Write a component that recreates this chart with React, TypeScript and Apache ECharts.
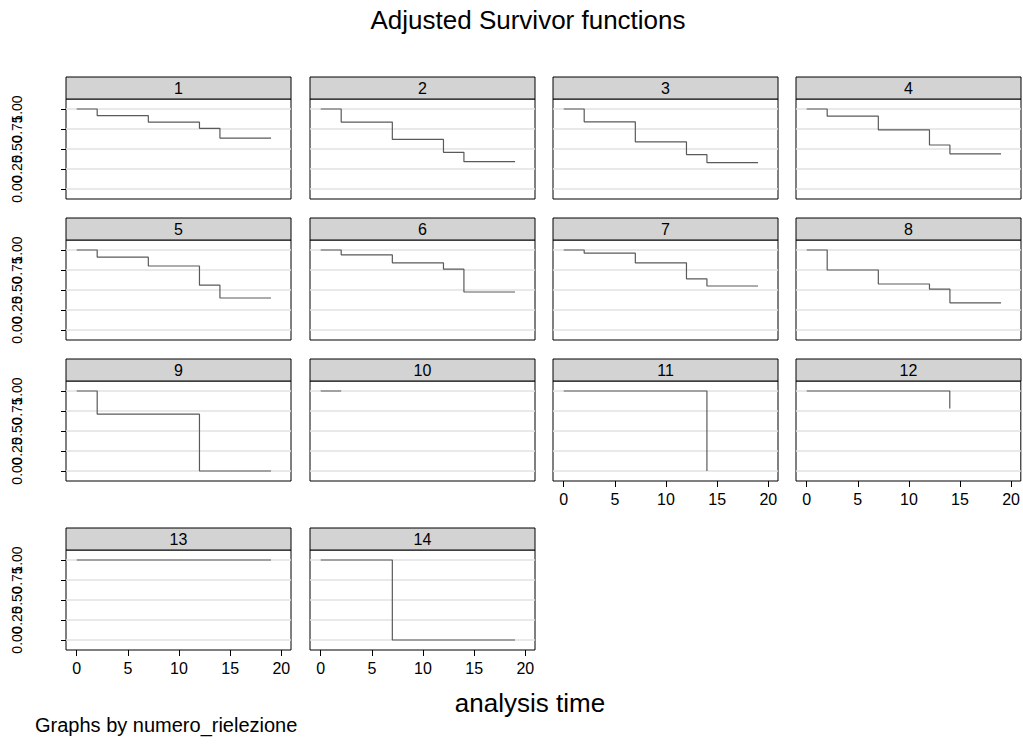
import React, { useEffect, useRef } from "react";
import * as echarts from "echarts";

// ---- data ----
const panelLabels = ["1", "2", "3", "4", "5", "6", "7", "8", "9", "10", "11", "12", "13", "14"];
const stdTimes = [0, 2, 7, 12, 14, 19];
const surv1 = [1, 0.916, 0.837, 0.758, 0.636, 0.636];
const surv2 = [1, 0.837, 0.62, 0.458, 0.341, 0.341];
const surv3 = [1, 0.84, 0.59, 0.43, 0.33, 0.33];
const surv4 = [1, 0.91, 0.74, 0.55, 0.44, 0.44];
const surv5 = [1, 0.91, 0.8, 0.56, 0.4, 0.4];
const surv6 = [1, 0.94, 0.84, 0.76, 0.475, 0.475];
const surv7 = [1, 0.96, 0.84, 0.64, 0.55, 0.55];
const surv8 = [1, 0.75, 0.575, 0.51, 0.34, 0.34];
const times9 = [0, 2, 12, 19];
const surv9 = [1, 0.71, 0, 0];
const times10 = [0, 2];
const surv10 = [1, 1];
const times11 = [0, 14];
const surv11 = [1, 0];
const times12 = [0, 14];
const surv12 = [1, 0.78];
const times13 = [0, 19];
const surv13 = [1, 1];
const times14 = [0, 7, 19];
const surv14 = [1, 0, 0];
const xTicks = [0, 5, 10, 15, 20];
const yTicks = [0, 0.25, 0.5, 0.75, 1];
const yLabelsA = [0, 0.5, 1];
const yLabelsB = [0.25, 0.75];

const panelTimes = [stdTimes, stdTimes, stdTimes, stdTimes, stdTimes, stdTimes, stdTimes, stdTimes, times9, times10, times11, times12, times13, times14];
const panelSurv = [surv1, surv2, surv3, surv4, surv5, surv6, surv7, surv8, surv9, surv10, surv11, surv12, surv13, surv14];

const title = "Adjusted Survivor functions";
const xTitle = "analysis time";
const note = "Graphs by numero_rielezione";

// ---- layout ----
const colLeft = [66, 310, 553, 796];
const rowTop = [99, 240, 381, 550];
const panelW = 225;
const panelH = 100;
const headerH = 22;
const FONT = "'Liberation Sans', Arial, Helvetica, sans-serif";

export default function App() {
  const ref = useRef<HTMLDivElement>(null);
  useEffect(() => {
    if (!ref.current) return;
    const chart = echarts.init(ref.current, null, { renderer: "svg" });
    const grids: any[] = [];
    const xAxes: any[] = [];
    const yAxes: any[] = [];
    const series: any[] = [];
    const graphics: any[] = [];
    const n = panelLabels.length;
    const yLabelStyle = {
      rotate: 90, fontSize: 14, margin: 42, color: "#000", fontFamily: FONT,
      showMinLabel: true, showMaxLabel: true, hideOverlap: false,
      formatter: (v: number) => v.toFixed(2),
    };
    for (let i = 0; i < n; i++) {
      const row = Math.floor(i / 4);
      const col = i % 4;
      const showX = i + 4 >= n;
      const showY = col === 0;
      const left = colLeft[col];
      const top = rowTop[row];
      grids.push({
        left, top, width: panelW, height: panelH,
        show: true, borderColor: "#000", borderWidth: 1, backgroundColor: "#fff",
      });
      xAxes.push({
        type: "value", gridIndex: i, min: -1.05, max: 20.95, position: "bottom",
        axisLine: { show: false, onZero: false },
        splitLine: { show: false },
        axisTick: { show: showX, customValues: xTicks, length: 6, lineStyle: { color: "#000", width: 1 } },
        axisLabel: {
          show: showX, customValues: xTicks, fontSize: 16, margin: 10, color: "#000", fontFamily: FONT,
          showMinLabel: true, showMaxLabel: true, hideOverlap: false,
        },
      });
      const yIndex = yAxes.length;
      yAxes.push({
        type: "value", gridIndex: i, min: -0.125, max: 1.125, position: "left",
        axisLine: { show: false, onZero: false },
        axisTick: { show: showY, customValues: yTicks, length: 5, lineStyle: { color: "#000", width: 1 } },
        axisLabel: { show: showY, customValues: yLabelsA, ...yLabelStyle },
        splitLine: { show: true, lineStyle: { color: "#e2e2e2", width: 1.5 } },
      });
      if (showY) {
        // second label layer at the same position (the reference's labels overlap)
        yAxes.push({
          type: "value", gridIndex: i, min: -0.125, max: 1.125, position: "left", offset: 0,
          axisLine: { show: false, onZero: false },
          axisTick: { show: false },
          splitLine: { show: false },
          axisLabel: { show: true, customValues: yLabelsB, ...yLabelStyle },
        });
      }
      const t = panelTimes[i];
      const s = panelSurv[i];
      series.push({
        type: "line", xAxisIndex: i, yAxisIndex: yIndex, step: "end",
        showSymbol: false, symbol: "none",
        lineStyle: { color: "#5a5a5a", width: 1.2 },
        data: t.map((x, k) => [x, s[k]]),
      });
      graphics.push({
        type: "rect",
        shape: { x: left, y: top - headerH, width: panelW, height: headerH },
        style: { fill: "#d3d3d3", stroke: "#000", lineWidth: 1 },
      });
      graphics.push({
        type: "text", x: left + panelW / 2, y: top - headerH / 2,
        style: { text: panelLabels[i], fontSize: 16, fontFamily: FONT, fill: "#000", textAlign: "center", textVerticalAlign: "middle" },
      });
    }
    graphics.push({
      type: "text", x: 528, y: 20,
      style: { text: title, fontSize: 26, fontFamily: FONT, fill: "#000", textAlign: "center", textVerticalAlign: "middle" },
    });
    graphics.push({
      type: "text", x: 530, y: 703,
      style: { text: xTitle, fontSize: 26, fontFamily: FONT, fill: "#000", textAlign: "center", textVerticalAlign: "middle" },
    });
    graphics.push({
      type: "text", x: 35, y: 725,
      style: { text: note, fontSize: 20, fontFamily: FONT, fill: "#000", textAlign: "left", textVerticalAlign: "middle" },
    });
    chart.setOption({
      animation: false,
      backgroundColor: "#fff",
      grid: grids,
      xAxis: xAxes,
      yAxis: yAxes,
      series,
      graphic: graphics,
    });
    return () => chart.dispose();
  }, []);
  return <div ref={ref} style={{ position: "absolute", left: 0, top: 0, width: 1023, height: 745 }} />;
}
